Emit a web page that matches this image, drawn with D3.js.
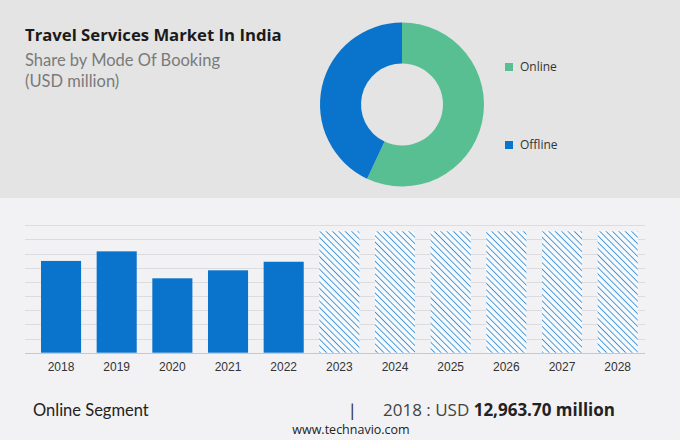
<!DOCTYPE html>
<html>
  <head>
    <script src="https://d3js.org/d3.v7.min.js"></script>
    <style>
      body { margin: 0; }
      svg { display: block; }
    </style>
  </head>
  <body>
    <div id="chart"></div>
    <script>
      // share by mode of booking
      const modes = ["Online", "Offline"];
      const shares = [57, 43];
      const modeColors = ["#58bf93", "#0a74cc"];

      // online segment, USD million
      const years = ["2018", "2019", "2020", "2021", "2022", "2023", "2024", "2025", "2026", "2027", "2028"];
      const values = [12963.7, 14320, 10510, 11640, 12850, 17150, 17150, 17150, 17150, 17150, 17150];
      const forecastFrom = "2023";
      const yTicks = [0, 2000, 4000, 6000, 8000, 10000, 12000, 14000, 16000, 18000];

      const W = 680, H = 440;
      const svg = d3.select("#chart").append("svg")
        .attr("width", W).attr("height", H);

      const defs = svg.append("defs");
      const pat = defs.append("pattern")
        .attr("id", "hatch")
        .attr("patternUnits", "userSpaceOnUse")
        .attr("width", 4.5).attr("height", 4.5)
        .attr("patternTransform", "rotate(45)");
      pat.append("rect").attr("width", 4.5).attr("height", 4.5).attr("fill", "#f7fafd");
      pat.append("line")
        .attr("x1", 0).attr("y1", 0).attr("x2", 4.5).attr("y2", 0)
        .attr("stroke", "#2b86d3").attr("stroke-width", 1.6);

      // backgrounds
      svg.append("rect").attr("width", W).attr("height", H).attr("fill", "#f2f2f4");
      svg.append("rect").attr("width", W).attr("height", 198).attr("fill", "#e4e4e4");

      // title
      svg.append("text").attr("x", 25).attr("y", 41)
        .style("font-family", "'Open Sans', sans-serif").style("font-weight", 700)
        .style("font-size", "16.7px").attr("fill", "#1a1a1a")
        .text("Travel Services Market In India");
      svg.append("text").attr("x", 25).attr("y", 66)
        .style("font-family", "Lato, sans-serif").style("font-size", "16.5px")
        .attr("fill", "#7a7a7a").text("Share by Mode Of Booking");
      svg.append("text").attr("x", 25).attr("y", 87)
        .style("font-family", "Lato, sans-serif").style("font-size", "16.5px")
        .attr("fill", "#7a7a7a").text("(USD million)");

      // donut
      const pie = d3.pie().sort(null).value((d) => d);
      const arc = d3.arc().innerRadius(41).outerRadius(82);
      svg.append("g").attr("transform", "translate(402,104.5)")
        .selectAll("path").data(pie(shares)).enter().append("path")
        .attr("d", arc).attr("fill", (d, i) => modeColors[i]);

      const leg = svg.append("g").selectAll("g").data(modes).enter().append("g")
        .attr("transform", (d, i) => `translate(505, ${67 + i * 78})`);
      leg.append("rect").attr("x", 0).attr("y", -4).attr("width", 8).attr("height", 8)
        .attr("fill", (d, i) => modeColors[i]);
      leg.append("text").attr("x", 15).attr("y", 0).attr("dy", "0.35em")
        .style("font-family", "'Open Sans', sans-serif").style("font-size", "12px")
        .attr("fill", "#333").text((d) => d);

      // bar chart
      const x = d3.scaleBand().domain(years).range([33.2, 645.5])
        .paddingInner(0.28).paddingOuter(0.14);
      const y = d3.scaleLinear().domain([0, 18000]).range([352.7, 225.3]);

      svg.append("g").selectAll("line").data(yTicks).enter().append("line")
        .attr("x1", 25).attr("x2", 645)
        .attr("y1", (d) => Math.round(y(d)) + 0.5).attr("y2", (d) => Math.round(y(d)) + 0.5)
        .attr("stroke", (d) => (d === 0 ? "#c8c8cc" : "#dcdce0")).attr("stroke-width", 1);

      svg.append("g").selectAll("rect").data(years).enter().append("rect")
        .attr("x", (d) => x(d))
        .attr("y", (d, i) => y(values[i]))
        .attr("width", x.bandwidth())
        .attr("height", (d, i) => y(0) - y(values[i]))
        .attr("fill", (d) => (d >= forecastFrom ? "url(#hatch)" : "#0a74cc"));

      const xAxis = svg.append("g").attr("transform", "translate(0,353)")
        .call(d3.axisBottom(x).tickSize(0).tickPadding(9));
      xAxis.select(".domain").remove();
      xAxis.selectAll("text")
        .style("font-family", "'Liberation Sans', Arial, sans-serif")
        .style("font-size", "12px").attr("fill", "#333");

      // footer
      svg.append("text").attr("x", 33).attr("y", 416)
        .style("font-family", "Lato, sans-serif").style("font-size", "16.5px")
        .attr("fill", "#222").text("Online Segment");
      svg.append("text").attr("x", 350).attr("y", 417)
        .style("font-family", "Lato, sans-serif").style("font-size", "18px")
        .attr("fill", "#333").text("|");
      const val = svg.append("text").attr("x", 383).attr("y", 416)
        .style("font-family", "'Open Sans', sans-serif").style("font-size", "17px")
        .attr("fill", "#444");
      val.append("tspan").text("2018 : USD ");
      val.append("tspan").style("font-weight", 700).attr("fill", "#222")
        .text("12,963.70 million");
      svg.append("text").attr("x", 351).attr("y", 434).attr("text-anchor", "middle")
        .style("font-family", "'Open Sans', sans-serif").style("font-size", "12.5px")
        .attr("fill", "#222").text("www.technavio.com");
    </script>
  </body>
</html>
